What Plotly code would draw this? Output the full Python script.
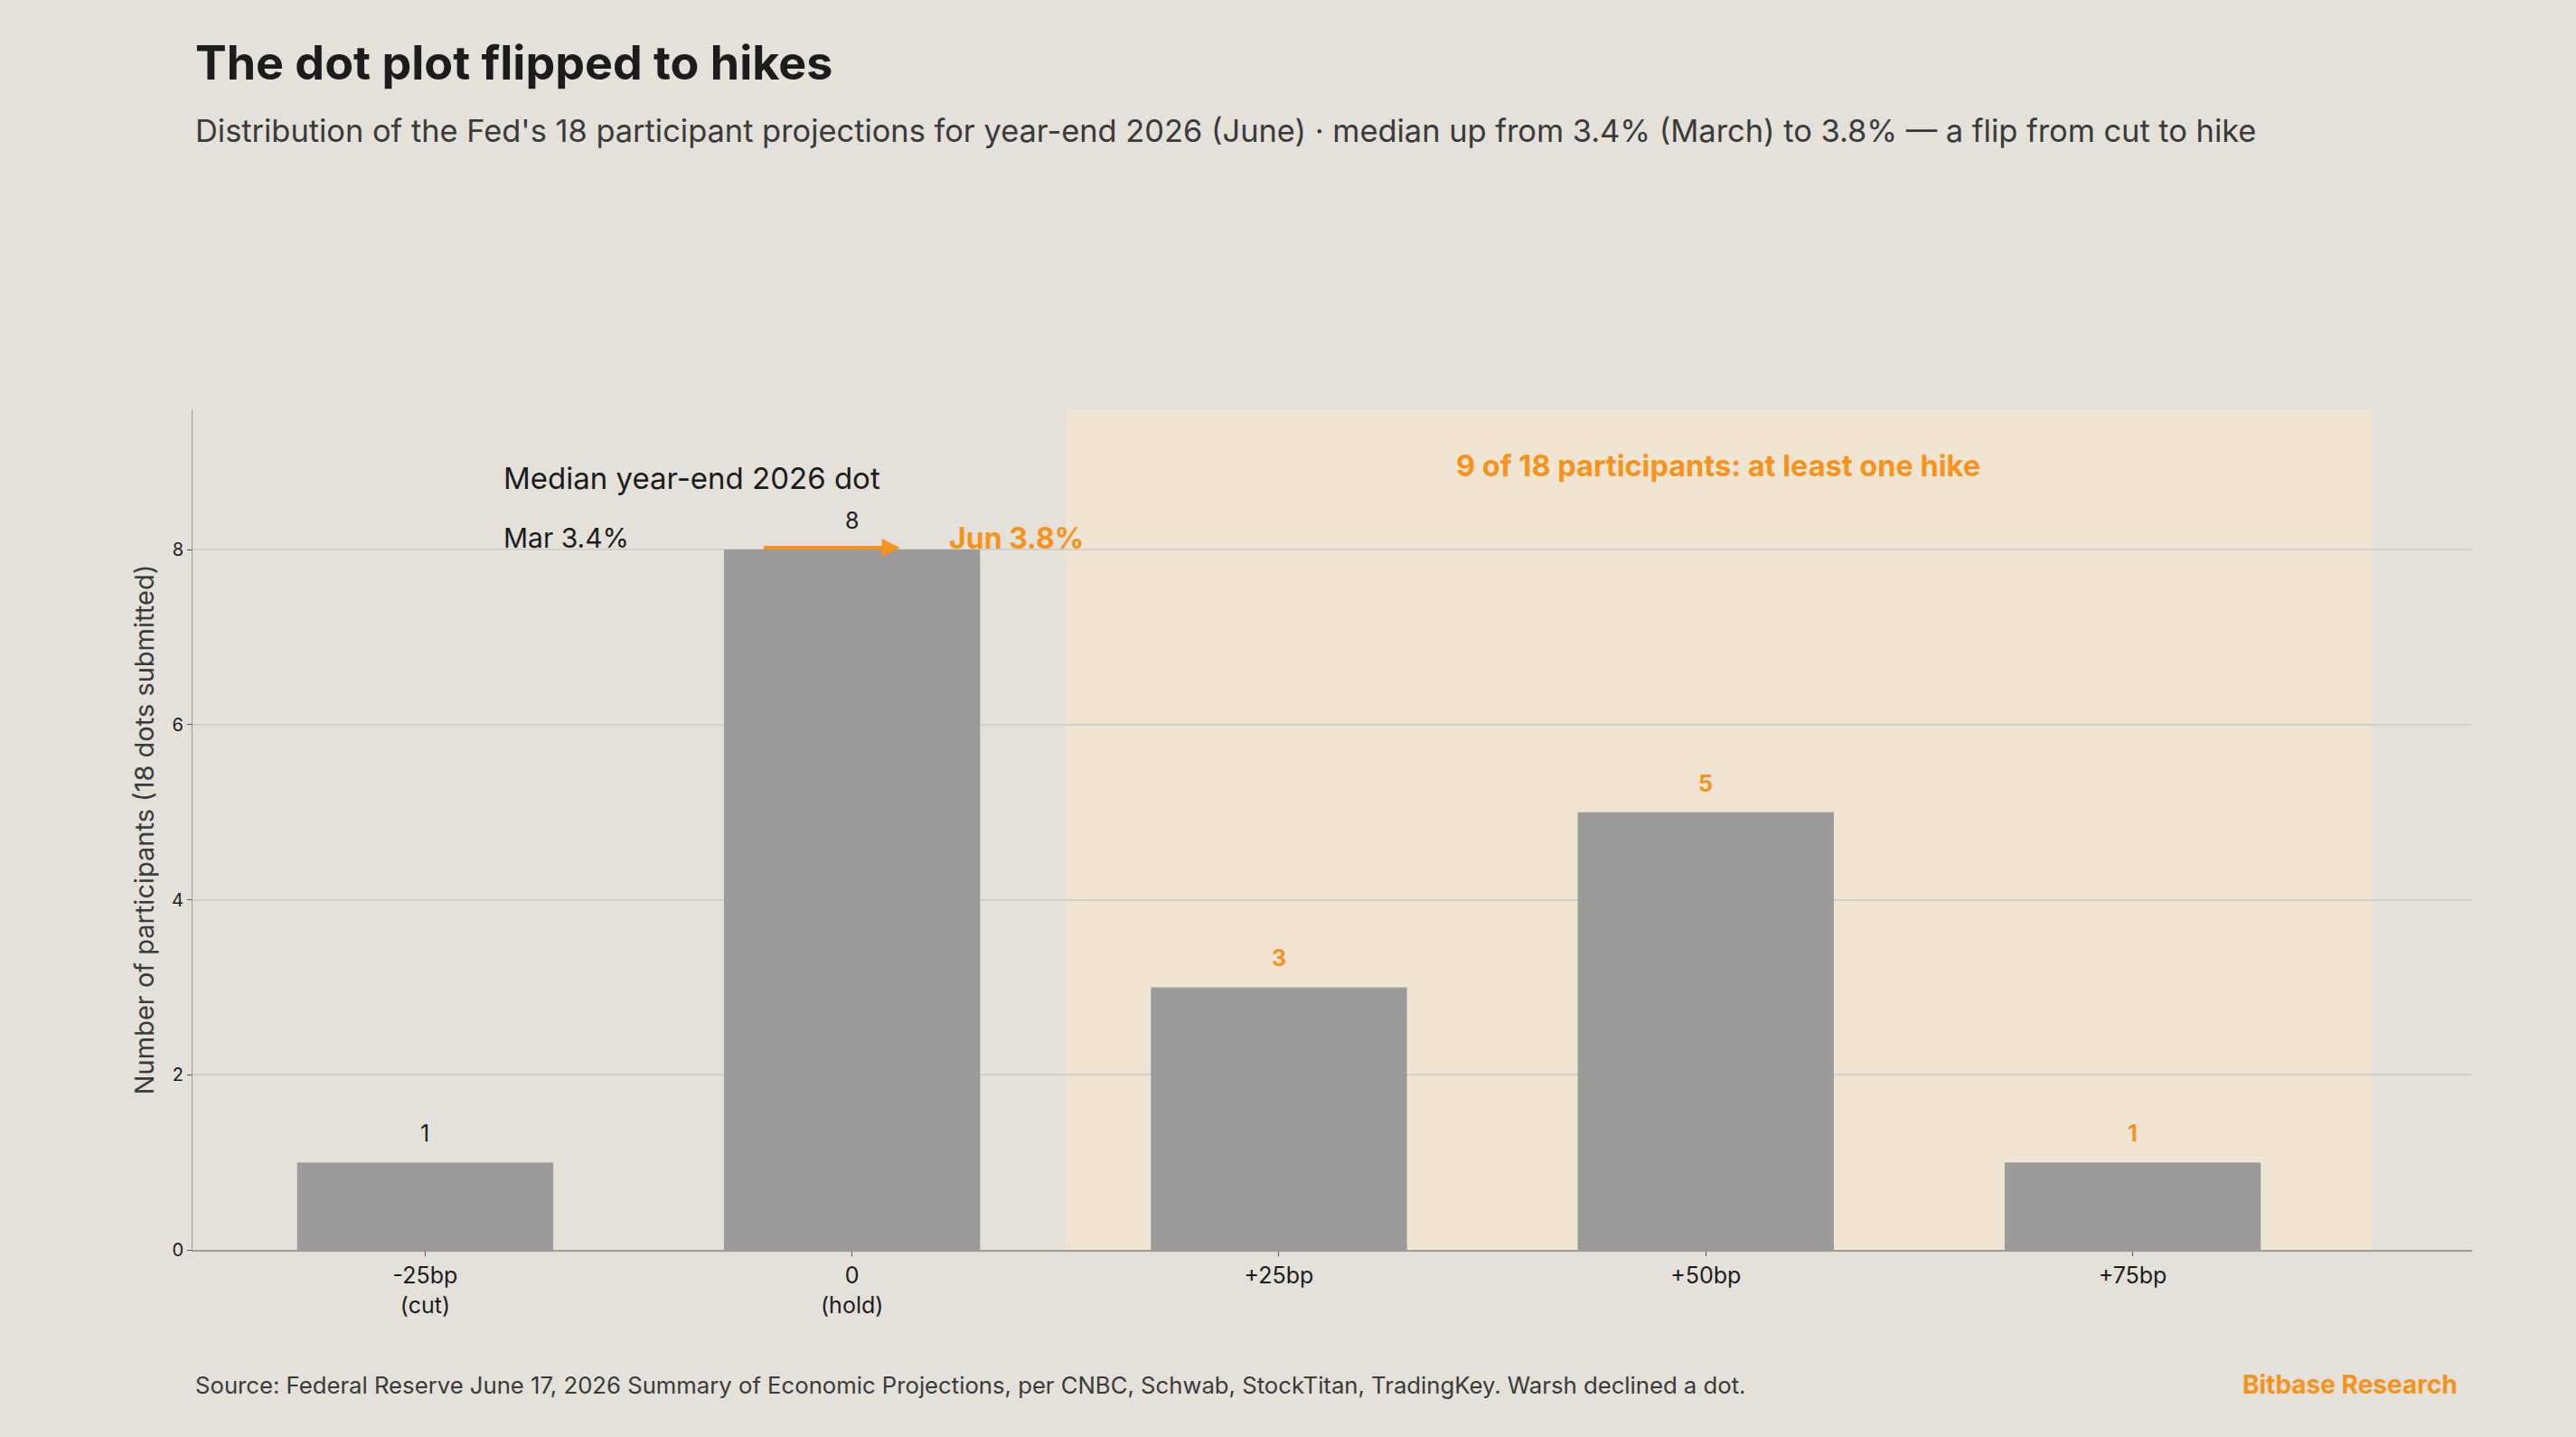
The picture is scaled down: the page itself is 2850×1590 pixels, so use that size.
import plotly.graph_objects as go

# ---- data ----
categories = ["-25bp<br>(cut)", "0<br>(hold)", "+25bp", "+50bp", "+75bp"]
bp_change = [-25, 0, 25, 50, 75]
participants = [1, 8, 3, 5, 1]
median_march = 3.4
median_june = 3.8
total_participants = 18

FONT = "Inter, Lato, sans-serif"
BG = "#E4E0DA"
ORANGE = "#F7931A"
BAR = "#9B9B9B"
DARK = "#1C1C1C"

W, H = 2850, 1590
ML, MR, MT, MB = 213, 115, 453, 207
pw, ph = W - ML - MR, H - MT - MB


def px_to_paper(xpx, ypx):
    return (xpx - ML) / pw, (H - ypx - MB) / ph


fig = go.Figure()
fig.add_trace(go.Bar(
    x=categories, y=participants, width=0.6,
    marker=dict(color=BAR, line=dict(width=0)),
    hoverinfo="skip", showlegend=False,
))

# value labels above bars
for c, v, bp in zip(categories, participants, bp_change):
    hike = bp > 0
    fig.add_annotation(
        x=c, y=v, xref="x", yref="y", yshift=32, showarrow=False,
        text=f"<b>{v}</b>" if hike else str(v),
        font=dict(family=FONT, size=25, color=ORANGE if hike else DARK),
    )

# shaded hike region
fig.add_shape(type="rect", xref="x", yref="paper", x0=1.5, x1=4.56, y0=0, y1=1,
              fillcolor="#F0E4D2", line=dict(width=0), layer="below")

hikers = sum(v for v, bp in zip(participants, bp_change) if bp > 0)
fig.add_annotation(x=3.03, y=8.96, xref="x", yref="y", showarrow=False,
                   text=f"<b>{hikers} of {total_participants} participants: at least one hike</b>",
                   font=dict(family=FONT, size=32.5, color=ORANGE))

# median annotations
fig.add_annotation(x=0.18, y=8.82, xref="x", yref="y", xanchor="left", showarrow=False,
                   text="Median year-end 2026 dot", font=dict(family=FONT, size=33, color=DARK))
fig.add_annotation(x=0.18, y=8.13, xref="x", yref="y", xanchor="left", showarrow=False,
                   text=f"Mar {median_march}%", font=dict(family=FONT, size=30, color=DARK))
fig.add_annotation(x=1.112, y=8.02, ax=0.79, ay=8.02, xref="x", yref="y", axref="x", ayref="y",
                   showarrow=True, arrowhead=2, arrowsize=1, arrowwidth=4, arrowcolor=ORANGE, text="")
fig.add_annotation(x=1.224, y=8.13, xref="x", yref="y", xanchor="left", showarrow=False,
                   text=f"<b>Jun {median_june}%</b>", font=dict(family=FONT, size=32, color=ORANGE))

# titles & footer
tx, ty = px_to_paper(214, 69)
fig.add_annotation(x=tx, y=ty, xref="paper", yref="paper", showarrow=False,
                   text="<b>The dot plot flipped to hikes</b>", xanchor="left", yanchor="middle",
                   font=dict(family=FONT, size=52, color=DARK))
sx, sy = px_to_paper(214, 145)
fig.add_annotation(x=sx, y=sy, xref="paper", yref="paper", showarrow=False,
                   text=f"Distribution of the Fed's {total_participants} participant projections for year-end 2026 (June) · median up from {median_march}% (March) to {median_june}% — a flip from cut to hike",
                   xanchor="left", yanchor="middle", font=dict(family=FONT, size=34.4, color="#3A3A3A"))
fx, fy = px_to_paper(214, 1532)
fig.add_annotation(x=fx, y=fy, xref="paper", yref="paper", showarrow=False,
                   xanchor="left", yanchor="middle",
                   text="Source: Federal Reserve June 17, 2026 Summary of Economic Projections, per CNBC, Schwab, StockTitan, TradingKey. Warsh declined a dot.",
                   font=dict(family=FONT, size=25.7, color="#3A3A3A"))
bx, by = px_to_paper(2721, 1532)
fig.add_annotation(x=bx, y=by, xref="paper", yref="paper", showarrow=False,
                   xanchor="right", yanchor="middle", text="<b>Bitbase Research</b>",
                   font=dict(family=FONT, size=28, color=ORANGE))

fig.update_layout(
    width=W, height=H,
    paper_bgcolor=BG, plot_bgcolor=BG,
    margin=dict(l=ML, r=MR, t=MT, b=MB),
    font=dict(family=FONT, color=DARK),
)

fig.update_xaxes(
    type="category", range=[-0.545, 4.795],
    showline=True, linecolor="#9A9A9A", linewidth=2,
    ticks="outside", ticklen=5, tickcolor="#555", tickwidth=1,
    tickfont=dict(family=FONT, size=25, color=DARK), showgrid=False,
)
fig.update_yaxes(
    range=[0, 9.6], tickvals=[0, 2, 4, 6, 8],
    showline=True, linecolor="#9A9A9A", linewidth=1,
    ticks="outside", ticklen=5, tickcolor="#555",
    tickfont=dict(family=FONT, size=20, color=DARK),
    showgrid=True, gridcolor="#D2CEC8", gridwidth=2, zeroline=False,
    title=dict(text="Number of participants (18 dots submitted)",
               font=dict(family=FONT, size=29, color="#3A3A3A"), standoff=10),
)

fig.write_html("out.html")
